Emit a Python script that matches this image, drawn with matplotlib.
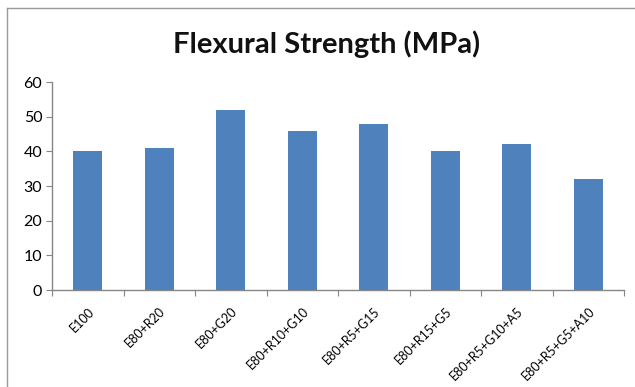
import numpy as np
import matplotlib

matplotlib.use("Agg")
import matplotlib.pyplot as plt
from matplotlib.lines import Line2D

mixes = [
    "E100",
    "E80+R20",
    "E80+G20",
    "E80+R10+G10",
    "E80+R5+G15",
    "E80+R15+G5",
    "E80+R5+G10+A5",
    "E80+R5+G5+A10",
]
strength = [40, 41, 52, 46, 48, 40, 42, 32]
y_ticks = [0, 10, 20, 30, 40, 50, 60]

BAR_COLOR = "#4F81BD"
AXIS_COLOR = "#868686"

plt.rcParams["font.family"] = ["Lato", "DejaVu Sans"]

fig = plt.figure(figsize=(6.35, 3.87), dpi=100)
ax = fig.add_axes([52 / 635, 1 - 290 / 387, 572 / 635, 208 / 387])

x = np.arange(len(mixes))
ax.bar(x, strength, width=0.4, color=BAR_COLOR, zorder=2)

ax.set_xlim(-0.5, len(mixes) - 0.5)
ax.set_ylim(0, 60)
ax.set_yticks(y_ticks)
ax.tick_params(axis="y", length=4, color=AXIS_COLOR, labelsize=11.5, pad=3)

# category ticks sit on the boundaries between bars
ax.set_xticks(np.arange(len(mixes) + 1) - 0.5, minor=False)
ax.set_xticklabels([])
ax.tick_params(axis="x", which="major", length=4, color=AXIS_COLOR)
ax.set_xticks(x, minor=True)
ax.set_xticklabels(mixes, minor=True, rotation=45, ha="right", va="top",
                   rotation_mode="anchor", fontsize=9.0)
ax.tick_params(axis="x", which="minor", length=0, pad=11)

for side in ("top", "right"):
    ax.spines[side].set_visible(False)
for side in ("left", "bottom"):
    ax.spines[side].set_color(AXIS_COLOR)
    ax.spines[side].set_linewidth(1.0)

fig.text(327 / 635, 1 - 44 / 387, "Flexural Strength (MPa)", ha="center",
         va="center", fontsize=21, fontweight="bold", color="#111111")

# chart area frame (left and top edges)
fig.add_artist(Line2D([7 / 635, 7 / 635], [0, 1 - 8 / 387],
                      transform=fig.transFigure, color="#9a9a9a", lw=1.0))
fig.add_artist(Line2D([7 / 635, 1], [1 - 8 / 387, 1 - 8 / 387],
                      transform=fig.transFigure, color="#9a9a9a", lw=1.0))

fig.savefig("out.png", dpi=100)
